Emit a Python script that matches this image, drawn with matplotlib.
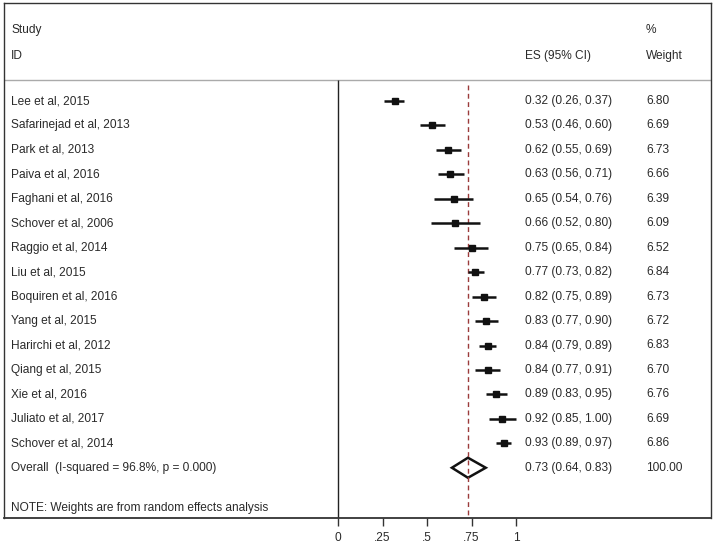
import matplotlib
matplotlib.use("Agg")
import matplotlib.pyplot as plt
from matplotlib.patches import Polygon
import matplotlib.transforms as mtrans

plt.rcParams['font.family'] = ['Liberation Sans', 'DejaVu Sans']

studies = ["Lee et al, 2015", "Safarinejad et al, 2013", "Park et al, 2013", "Paiva et al, 2016",
           "Faghani et al, 2016", "Schover et al, 2006", "Raggio et al, 2014", "Liu et al, 2015",
           "Boquiren et al, 2016", "Yang et al, 2015", "Harirchi et al, 2012", "Qiang et al, 2015",
           "Xie et al, 2016", "Juliato et al, 2017", "Schover et al, 2014"]
es = [0.32, 0.53, 0.62, 0.63, 0.65, 0.66, 0.75, 0.77, 0.82, 0.83, 0.84, 0.84, 0.89, 0.92, 0.93]
lo = [0.26, 0.46, 0.55, 0.56, 0.54, 0.52, 0.65, 0.73, 0.75, 0.77, 0.79, 0.77, 0.83, 0.85, 0.89]
hi = [0.37, 0.60, 0.69, 0.71, 0.76, 0.80, 0.84, 0.82, 0.89, 0.90, 0.89, 0.91, 0.95, 1.00, 0.97]
weights = [6.80, 6.69, 6.73, 6.66, 6.39, 6.09, 6.52, 6.84, 6.73, 6.72, 6.83, 6.70, 6.76, 6.69, 6.86]
overall_label = "Overall  (I-squared = 96.8%, p = 0.000)"
overall_es, overall_lo, overall_hi, overall_w = 0.73, 0.64, 0.83, 100.00
note = "NOTE: Weights are from random effects analysis"
xticks = [0, 0.25, 0.5, 0.75, 1]
xticklabels = ["0", ".25", ".5", ".75", "1"]

W, H = 714, 548
fig = plt.figure(figsize=(W / 100, H / 100), dpi=100)
box_l, box_r, box_t, box_b = 4, 711, 3, 518
ax = fig.add_axes([box_l / W, 1 - box_b / H, (box_r - box_l) / W, (box_b - box_t) / H])

px_per_unit = 178.0
x0_px = 338.0
ax.set_xlim((box_l - x0_px) / px_per_unit, (box_r - x0_px) / px_per_unit)
row0_px, row_h = 101.0, 24.45
ax.set_ylim((box_b - row0_px) / row_h, (box_t - row0_px) / row_h)

txtc = "#2a2a2a"
fs = 8.6
tr = mtrans.blended_transform_factory(ax.transAxes, ax.transData)
col_study = (11 - box_l) / (box_r - box_l)
col_es = (525 - box_l) / (box_r - box_l)
col_w = (646 - box_l) / (box_r - box_l)

# header
hdr1 = (30 - row0_px) / row_h
hdr2 = (56 - row0_px) / row_h
sep = (80 - row0_px) / row_h
ax.text(col_study, hdr1, "Study", transform=tr, fontsize=fs, color=txtc, va='center')
ax.text(col_study, hdr2, "ID", transform=tr, fontsize=fs, color=txtc, va='center')
ax.text(col_es, hdr2, "ES (95% CI)", transform=tr, fontsize=fs, color=txtc, va='center')
ax.text(col_w, hdr1, "%", transform=tr, fontsize=fs, color=txtc, va='center')
ax.text(col_w, hdr2, "Weight", transform=tr, fontsize=fs, color=txtc, va='center')
ax.axhline(sep, color="#aaaaaa", lw=1.0)

ybot = ax.get_ylim()[0]
# zero line
ax.plot([0, 0], [sep, ybot], color="#222222", lw=1.0, solid_capstyle='butt')
# overall dashed line
ax.plot([overall_es, overall_es], [sep + 0.2, ybot], color="#9b3b3b", lw=1.0,
        dashes=(3.5, 2.5))

for i, (s, e, l, h, w) in enumerate(zip(studies, es, lo, hi, weights)):
    ax.plot([l, h], [i, i], color="#111111", lw=1.8, solid_capstyle='butt')
    ax.plot([e], [i], marker='s', color="#111111", markersize=4.2 + (w - 6) * 0.8)
    ax.text(col_study, i, s, transform=tr, fontsize=fs, color=txtc, va='center')
    ax.text(col_es, i, f"{e:.2f} ({l:.2f}, {h:.2f})", transform=tr, fontsize=fs, color=txtc, va='center')
    ax.text(col_w, i, f"{w:.2f}", transform=tr, fontsize=fs, color=txtc, va='center')

iov = len(studies)
dh = 0.41
diamond = Polygon([[overall_lo, iov], [overall_es, iov - dh], [overall_hi, iov], [overall_es, iov + dh]],
                  closed=True, fill=False, edgecolor="#111111", lw=1.8)
ax.add_patch(diamond)
ax.text(col_study, iov, overall_label, transform=tr, fontsize=fs, color=txtc, va='center')
ax.text(col_es, iov, f"{overall_es:.2f} ({overall_lo:.2f}, {overall_hi:.2f})", transform=tr,
        fontsize=fs, color=txtc, va='center')
ax.text(col_w, iov, f"{overall_w:.2f}", transform=tr, fontsize=fs, color=txtc, va='center')

ax.text(col_study, (508 - row0_px) / row_h, note, transform=tr, fontsize=fs, color=txtc, va='center')

for sp in ax.spines.values():
    sp.set_color("#333333")
    sp.set_linewidth(1.0)
ax.spines['bottom'].set_linewidth(1.3)
ax.set_xticks(xticks)
ax.set_xticklabels(xticklabels, fontsize=fs, color=txtc)
ax.tick_params(axis='x', direction='out', length=6, width=1.0, color="#333333", pad=4)
ax.set_yticks([])

fig.savefig("out.png", dpi=100)
